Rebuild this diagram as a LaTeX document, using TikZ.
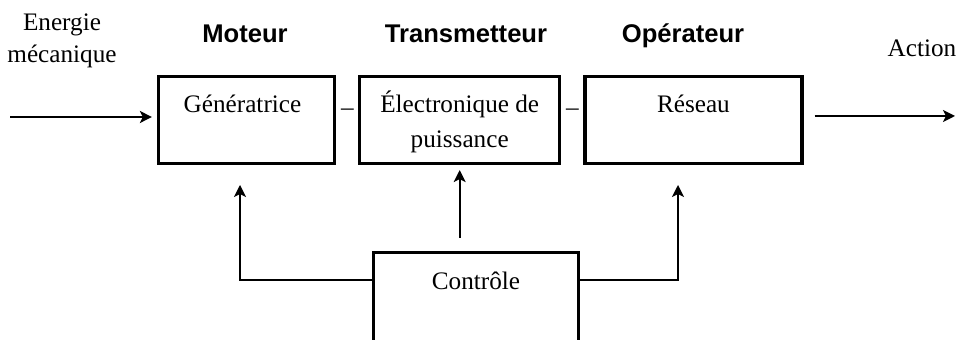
\documentclass[tikz,border=0pt]{standalone}
\usepackage{fontspec}
\setmainfont{Liberation Serif}
\setsansfont{Liberation Sans}
\usetikzlibrary{positioning,arrows.meta}
\tikzset{
  >={Stealth[length=6pt,width=6pt,inset=1.5pt]},
  blk/.style={draw,line width=1.6pt,minimum height=43.5pt,inner sep=0pt},
  blklbl/.style={font=\fontsize{12.6}{17.5}\selectfont,align=center,
    inner sep=0pt,anchor=base},
  hdr/.style={font=\fontsize{12.8}{15}\sffamily\bfseries,inner sep=0pt,
    anchor=base},
  iolbl/.style={font=\fontsize{12.6}{16}\selectfont,align=center,
    inner sep=0pt,anchor=base},
  flow/.style={->,line width=1.1pt},
  fb/.style={->,line width=0.8pt},
}
\begin{document}
\begin{tikzpicture}[x=0.5pt,y=-0.5pt]
  \useasboundingbox (0,0) rectangle (958,340);
  \clip (0,0) rectangle (958,340);
  \node[blk,minimum width=88pt] (gen) at (246.5,120) {};
  \node[blk,minimum width=100pt,right=11pt of gen] (elec) {};
  \node[blk,minimum width=108.5pt,right=11pt of elec] (res) {};
  \node[blk,minimum width=102.5pt,minimum height=60pt,anchor=north] (ctrl)
    at (476,251) {};
  \node[blklbl] (gen-t) at ([xshift=-2pt,yshift=-19pt]gen.north) {Génératrice};
  \node[blklbl] (elec-t) at ([yshift=-36.5pt]elec.north)
    {Électronique de\\puissance};
  \node[blklbl] (res-t) at ([yshift=-19pt]res.north) {Réseau};
  \node[blklbl] (ctrl-t) at ([yshift=-19.5pt]ctrl.north) {Contrôle};
  \node[blklbl] (d1) at (347.5,116) {--};
  \node[blklbl] (d2) at (572.5,116) {--};
  \node[hdr] (mot) at (245,43) {Moteur};
  \node[hdr] (trans) at (466,43) {Transmetteur};
  \node[hdr] (oper) at (683,43) {Opérateur};
  \node[iolbl] (nrj) at (62,63) {Energie\\mécanique};
  \node[iolbl] (act) at (922,57) {Action};
  \coordinate (src) at (10,117);
  \coordinate (dst) at (955,116);
  \coordinate (gen-in) at (240,185);
  \coordinate (res-in) at (678,185);
  \draw[flow] (src) -- ([xshift=-2.5pt]gen.west |- src);
  \draw[flow] ([xshift=5.5pt]res.east |- dst) -- (dst);
  \draw[fb] ([yshift=-14.5pt]ctrl.north west) -| (gen-in);
  \draw[fb] ([yshift=-14.5pt]ctrl.north east) -| (res-in);
  \draw[fb] ([yshift=6.5pt]ctrl.north -| elec.south) -- ([yshift=-2.5pt]elec.south);
\end{tikzpicture}
\end{document}
